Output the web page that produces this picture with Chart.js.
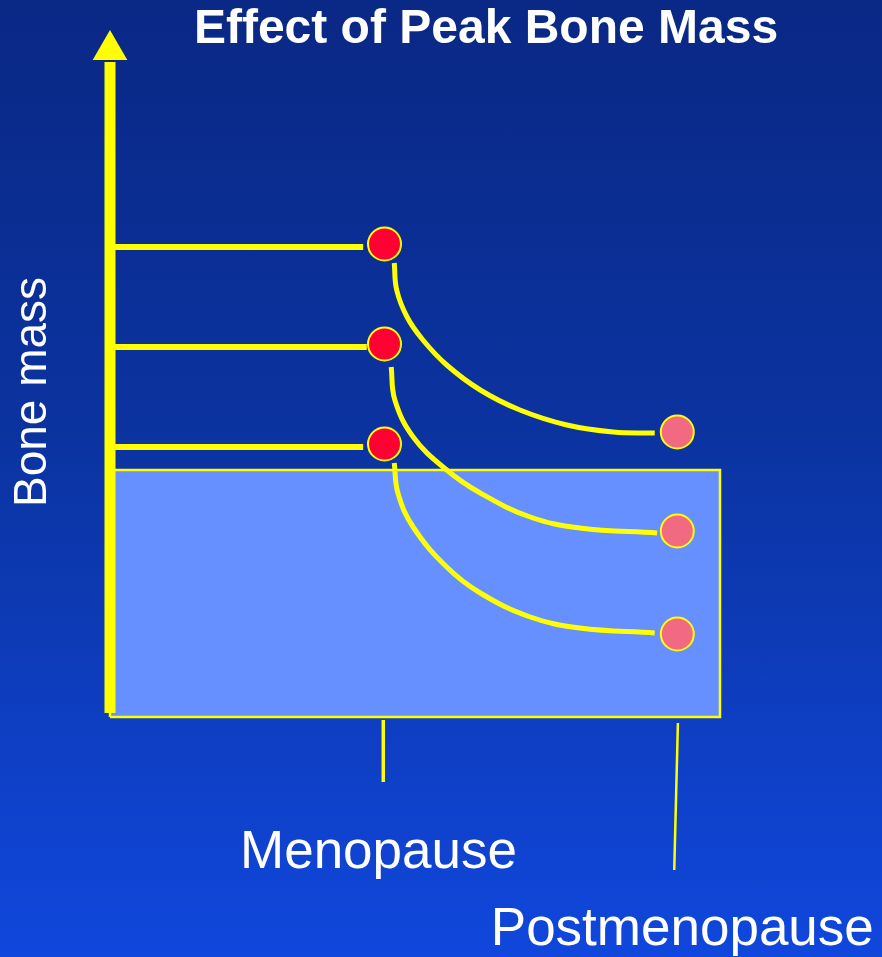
<!DOCTYPE html>
<html>
<head>
<meta charset="utf-8">
<script src="https://cdn.jsdelivr.net/npm/chart.js@4.4.1/dist/chart.umd.min.js"></script>
<style>
  html, body { margin: 0; padding: 0; overflow: hidden; }
  body {
    width: 882px; height: 957px;
    background: linear-gradient(to bottom, #0a2885 0%, #0b33a0 45%, #1047dc 100%);
  }
  #wrap { position: absolute; left: 0; top: 0; width: 882px; height: 957px; }
</style>
</head>
<body>
<div id="wrap"><canvas id="chart" width="882" height="957"></canvas></div>
<script>
// ---- data (x = time, y = bone mass, arbitrary units) ----
const menoX = 4.5;
const postX = 9.3;
const peakMass = [9.46, 7.46, 5.46];      // red dots at menopause
const postMass = [5.7, 3.72, 1.66];       // pink dots after menopause
const peakLevels = [9.4, 7.4, 5.4];       // horizontal lines from the axis
const peakLineEnd = [4.15, 4.21, 4.15];
const threshold = 4.94;                   // top of the shaded box

const curveHigh = [
  {x: 4.66, y: 9.08}, {x: 4.70, y: 8.54}, {x: 4.87, y: 8.00}, {x: 5.13, y: 7.54},
  {x: 5.52, y: 7.04}, {x: 6.07, y: 6.54}, {x: 6.72, y: 6.14}, {x: 7.49, y: 5.84},
  {x: 8.25, y: 5.70}, {x: 8.93, y: 5.68}
];
const curveMid = [
  {x: 4.61, y: 7.00}, {x: 4.67, y: 6.34}, {x: 4.97, y: 5.60}, {x: 5.52, y: 4.94},
  {x: 6.07, y: 4.48}, {x: 6.89, y: 4.00}, {x: 7.70, y: 3.78}, {x: 8.97, y: 3.68}
];
const curveLow = [
  {x: 4.66, y: 5.08}, {x: 4.72, y: 4.48}, {x: 4.97, y: 3.80}, {x: 5.52, y: 3.00},
  {x: 6.07, y: 2.48}, {x: 6.89, y: 2.00}, {x: 7.70, y: 1.78}, {x: 8.93, y: 1.68}
];

const YELLOW = '#ffff00';

// 横线 + 曲线
const levelLines = peakLevels.map((lv, i) => ({
  data: [{x: 0.05, y: lv}, {x: peakLineEnd[i], y: lv}],
  borderColor: YELLOW, borderWidth: 6, pointRadius: 0, borderCapStyle: 'butt', order: 5
}));
const curves = [curveHigh, curveMid, curveLow].map(c => ({
  data: c, borderColor: YELLOW, borderWidth: 5, pointRadius: 0,
  tension: 0.4, order: 4
}));

const datasets = [
  // shaded box fill
  { data: [{x: 0, y: threshold}, {x: 10, y: threshold}], borderWidth: 0, pointRadius: 0,
    fill: 'origin', backgroundColor: '#6690ff', order: 10 },
  // box outline
  { data: [{x: 0, y: 0}, {x: 0, y: threshold}, {x: 10, y: threshold}, {x: 10, y: 0}, {x: 0, y: 0}],
    borderColor: YELLOW, borderWidth: 2.5, pointRadius: 0, order: 9 },
  ...levelLines,
  ...curves,
  // tick marks under the box
  { data: [{x: menoX - 0.02, y: -0.06}, {x: menoX - 0.02, y: -1.3}],
    borderColor: YELLOW, borderWidth: 3.5, pointRadius: 0, borderCapStyle: 'butt', order: 6 },
  { data: [{x: postX + 0.01, y: -0.12}, {x: postX - 0.05, y: -3.06}],
    borderColor: YELLOW, borderWidth: 2.5, pointRadius: 0, borderCapStyle: 'butt', order: 6 },
  // y axis line and arrow head
  { data: [{x: 0, y: 0.08}, {x: 0, y: 13.1}],
    borderColor: YELLOW, borderWidth: 11, pointRadius: 0, borderCapStyle: 'butt', order: 3 },
  { data: [{x: 0, y: 13.34}], showLine: false, pointStyle: 'triangle', pointRadius: 20,
    pointBackgroundColor: YELLOW, pointBorderWidth: 0, order: 2 },
  // dots
  { data: peakMass.map(v => ({x: menoX, y: v})), showLine: false, pointRadius: 16.5,
    pointBackgroundColor: '#ff0033', pointBorderColor: YELLOW, pointBorderWidth: 2, order: 1 },
  { data: postMass.map(v => ({x: postX, y: v})), showLine: false, pointRadius: 16.5,
    pointBackgroundColor: '#f26a82', pointBorderColor: YELLOW, pointBorderWidth: 2, order: 1 }
].map(d => Object.assign({ clip: false, fill: false }, d));

const textPlugin = {
  id: 'texts',
  afterDraw(chart) {
    const ctx = chart.ctx;
    const xs = chart.scales.x, ys = chart.scales.y;
    ctx.save();
    ctx.fillStyle = '#ffffff';
    ctx.textBaseline = 'alphabetic';

    ctx.font = 'bold 48px "Liberation Sans", Arial, sans-serif';
    ctx.textAlign = 'center';
    ctx.fillText('Effect of Peak Bone Mass', 486, 43);

    ctx.font = '53px "Liberation Sans", Arial, sans-serif';
    ctx.fillText('Menopause', xs.getPixelForValue(menoX) - 6, ys.getPixelForValue(-3.02));
    ctx.fillText('Postmenopause', xs.getPixelForValue(postX) + 5, ys.getPixelForValue(-4.56));

    ctx.font = '46px "Liberation Sans", Arial, sans-serif';
    ctx.translate(46, 392);
    ctx.rotate(-Math.PI / 2);
    ctx.fillText('Bone mass', 0, 0);
    ctx.restore();
  }
};

new Chart(document.getElementById('chart'), {
  type: 'line',
  data: { datasets },
  options: {
    responsive: false,
    animation: false,
    events: [],
    layout: { autoPadding: false, padding: { left: 110, right: 162, top: 17, bottom: 0 } },
    scales: {
      x: { type: 'linear', min: 0, max: 10, display: false },
      y: { type: 'linear', min: -4.8, max: 14, display: false }
    },
    plugins: { legend: { display: false }, tooltip: { enabled: false }, title: { display: false } }
  },
  plugins: [textPlugin]
});
</script>
</body>
</html>
